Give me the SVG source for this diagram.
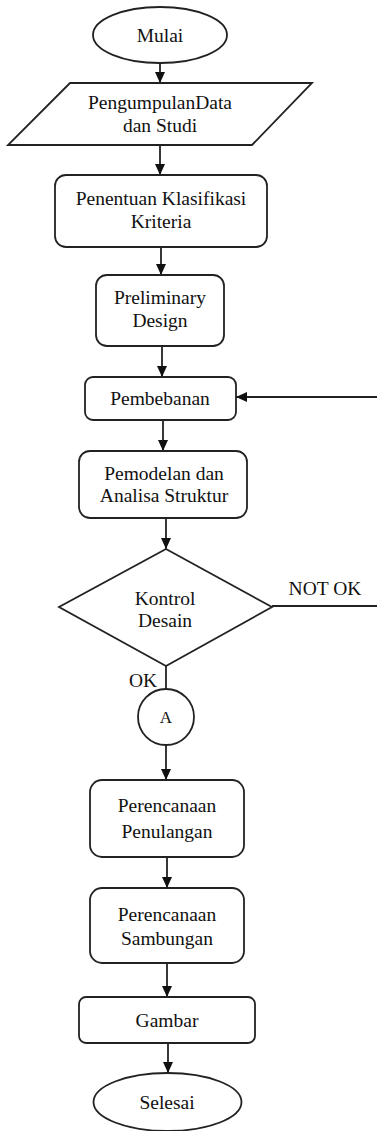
<svg xmlns="http://www.w3.org/2000/svg" width="377" height="1131" viewBox="0 0 377 1131" font-family="'Liberation Serif', 'DejaVu Serif', serif">
<style>
.shape{fill:#fff;stroke:#222;stroke-width:1.8}
.line{fill:none;stroke:#222;stroke-width:1.8}
text{font-family:'Liberation Serif','Times New Roman','DejaVu Serif',serif;font-size:19.5px;fill:#111;text-anchor:middle}
</style>
<defs>
<marker id="arr" markerUnits="userSpaceOnUse" markerWidth="12" markerHeight="10" refX="11" refY="5" orient="auto">
<path d="M0,0 L11,5 L0,10 z" fill="#111"/>
</marker>
</defs>
<rect width="377" height="1131" fill="#fff"/>
<g id="connectors">
<line class="line" x1="160" y1="63" x2="160" y2="83" marker-end="url(#arr)"/>
<line class="line" x1="160" y1="145" x2="160" y2="175" marker-end="url(#arr)"/>
<line class="line" x1="161" y1="247" x2="161" y2="275" marker-end="url(#arr)"/>
<line class="line" x1="162" y1="346" x2="162" y2="377" marker-end="url(#arr)"/>
<line class="line" x1="163" y1="420" x2="163" y2="451" marker-end="url(#arr)"/>
<line class="line" x1="166" y1="518" x2="166" y2="549" marker-end="url(#arr)"/>
<line class="line" x1="377" y1="397" x2="236" y2="397" marker-end="url(#arr)"/>
<line class="line" x1="272" y1="606" x2="377" y2="606"/>
<line class="line" x1="166" y1="666" x2="166" y2="689"/>
<line class="line" x1="166" y1="745" x2="166" y2="780" marker-end="url(#arr)"/>
<line class="line" x1="167" y1="857" x2="167" y2="888" marker-end="url(#arr)"/>
<line class="line" x1="167" y1="963" x2="167" y2="997" marker-end="url(#arr)"/>
<line class="line" x1="168" y1="1043" x2="168" y2="1073" marker-end="url(#arr)"/>
<text x="325" y="595">NOT OK</text>
<text x="143" y="687">OK</text>
</g>
<g id="mulai">
<ellipse class="shape" cx="160" cy="35" rx="67" ry="28"/>
<text x="160" y="42">Mulai</text>
</g>
<g id="pengumpulan">
<polygon class="shape" points="70,83 312,83 252,145 8,145"/>
<text x="160" y="109">PengumpulanData</text>
<text x="160" y="132">dan Studi</text>
</g>
<g id="penentuan">
<rect class="shape" x="55" y="175" width="212" height="72" rx="11"/>
<text x="161" y="205">Penentuan Klasifikasi</text>
<text x="161" y="228">Kriteria</text>
</g>
<g id="preliminary">
<rect class="shape" x="96" y="275" width="128" height="71" rx="11"/>
<text x="160" y="304">Preliminary</text>
<text x="160" y="327">Design</text>
</g>
<g id="pembebanan">
<rect class="shape" x="85" y="377" width="151" height="43" rx="8"/>
<text x="160" y="405">Pembebanan</text>
</g>
<g id="pemodelan">
<rect class="shape" x="79" y="451" width="168" height="67" rx="11"/>
<text x="164" y="480">Pemodelan dan</text>
<text x="164" y="502">Analisa Struktur</text>
</g>
<g id="kontrol">
<polygon class="shape" points="166,549 272,607 166,666 59,607"/>
<text x="165" y="605">Kontrol</text>
<text x="165" y="627">Desain</text>
</g>
<g id="connectorA">
<circle class="shape" cx="166" cy="717" r="28"/>
<text x="166" y="723" style="font-size:17px">A</text>
</g>
<g id="penulangan">
<rect class="shape" x="90" y="780" width="154" height="77" rx="12"/>
<text x="167" y="812">Perencanaan</text>
<text x="167" y="838">Penulangan</text>
</g>
<g id="sambungan">
<rect class="shape" x="90" y="888" width="154" height="75" rx="12"/>
<text x="167" y="921">Perencanaan</text>
<text x="167" y="945">Sambungan</text>
</g>
<g id="gambar">
<rect class="shape" x="79" y="997" width="176" height="46" rx="7"/>
<text x="167" y="1027">Gambar</text>
</g>
<g id="selesai">
<ellipse class="shape" cx="167.5" cy="1102" rx="74" ry="29"/>
<text x="167" y="1109">Selesai</text>
</g>
</svg>
